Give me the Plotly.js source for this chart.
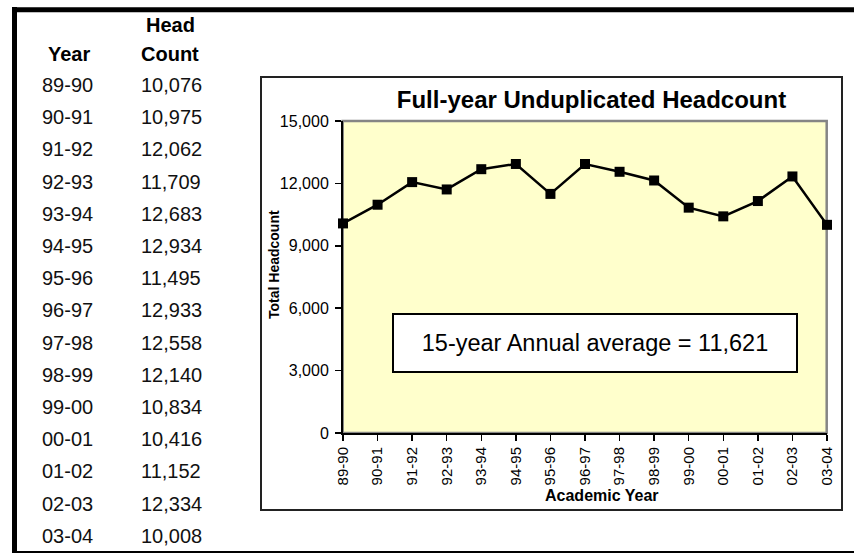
<!DOCTYPE html>
<html>
<head>
<meta charset="utf-8">
<script src="https://cdn.plot.ly/plotly-3.0.1.min.js"></script>
<style>
html,body{margin:0;padding:0;background:#fff;}
#chart{width:854px;height:553px;}
</style>
</head>
<body>
<div id="chart"></div>
<script>
// ---- data ----
var years = ["89-90","90-91","91-92","92-93","93-94","94-95","95-96","96-97","97-98","98-99","99-00","00-01","01-02","02-03","03-04"];
var headcount = [10076,10975,12062,11709,12683,12934,11495,12933,12558,12140,10834,10416,11152,12334,10008];
var yTicks = [0,3000,6000,9000,12000,15000];
var chartTitle = "Full-year Unduplicated Headcount";
var xTitle = "Academic Year";
var yTitle = "Total Headcount";
var avgLabel = "15-year Annual average = 11,621";
var tableHeaderYear = "Year";
var tableHeaderCount = ["Head","Count"];

// ---- layout geometry (pixels) ----
var W = 854, H = 553;
var PL = 343, PR = 827, PT = 121, PB = 433;
function px(x){ return (x - PL) / (PR - PL); }
function py(y){ return (PB - y) / (PB - PT); }
var FONT = "Liberation Sans, Arial, sans-serif";

function fmt(n){ return n.toString().replace(/\B(?=(\d{3})+(?!\d))/g, ","); }

var annotations = [];
// table header
annotations.push({xref:'paper',yref:'paper',x:px(46),y:py(54),xanchor:'left',yanchor:'middle',showarrow:false,
  text:'<b>'+tableHeaderYear+'</b>',font:{family:FONT,size:20,color:'#000'}});
annotations.push({xref:'paper',yref:'paper',x:px(170),y:py(25),xanchor:'center',yanchor:'middle',showarrow:false,
  text:'<b>'+tableHeaderCount[0]+'</b>',font:{family:FONT,size:20,color:'#000'}});
annotations.push({xref:'paper',yref:'paper',x:px(170),y:py(54),xanchor:'center',yanchor:'middle',showarrow:false,
  text:'<b>'+tableHeaderCount[1]+'</b>',font:{family:FONT,size:20,color:'#000'}});
// table rows
for (var i = 0; i < years.length; i++) {
  var yy = 85 + i * 32.2;
  annotations.push({xref:'paper',yref:'paper',x:px(40),y:py(yy),xanchor:'left',yanchor:'middle',showarrow:false,
    text:years[i],font:{family:FONT,size:20,color:'#111'}});
  annotations.push({xref:'paper',yref:'paper',x:px(138.5),y:py(yy),xanchor:'left',yanchor:'middle',showarrow:false,
    text:fmt(headcount[i]),font:{family:FONT,size:20,color:'#111'}});
}
// average box
annotations.push({xref:'paper',yref:'paper',x:px(594.7),y:py(343),xanchor:'center',yanchor:'middle',showarrow:false,
  text:avgLabel,font:{family:FONT,size:23.5,color:'#000'},bgcolor:'#ffffff',bordercolor:'#000',borderwidth:2,
  width:400,height:54});
// axis titles
annotations.push({xref:'paper',yref:'paper',x:px(602),y:py(495),xanchor:'center',yanchor:'middle',showarrow:false,
  text:'<b>'+xTitle+'</b>',font:{family:FONT,size:16,color:'#000'}});
annotations.push({xref:'paper',yref:'paper',x:px(274),y:py(265),xanchor:'center',yanchor:'middle',showarrow:false,textangle:-90,
  text:'<b>'+yTitle+'</b>',font:{family:FONT,size:14,color:'#000'}});

var shapes = [
  // outer frame
  {type:'line',xref:'paper',yref:'paper',x0:px(12),x1:px(856),y0:py(9.7),y1:py(9.7),line:{color:'#000',width:5}},
  {type:'line',xref:'paper',yref:'paper',x0:px(14.5),x1:px(14.5),y0:py(7),y1:py(556),line:{color:'#000',width:5}},
  {type:'line',xref:'paper',yref:'paper',x0:px(12),x1:px(856),y0:py(552),y1:py(552),line:{color:'#000',width:2}},
  // chart box
  {type:'rect',xref:'paper',yref:'paper',x0:px(261),x1:px(842),y0:py(77),y1:py(510),line:{color:'#222',width:2},layer:'below'},
  // plot area border (grey)
  {type:'rect',xref:'paper',yref:'paper',x0:px(342.7),x1:px(826.7),y0:py(433),y1:py(121),line:{color:'#858585',width:2.5},layer:'below'}
];

var trace = {
  type:'scatter', mode:'lines+markers',
  x: years, y: headcount,
  line:{color:'#000',width:2.5},
  marker:{symbol:'square',size:10,color:'#000'},
  hoverinfo:'x+y', cliponaxis:false
};

var layout = {
  width:W, height:H,
  margin:{l:PL, r:W-PR, t:PT, b:H-PB, pad:0},
  paper_bgcolor:'#ffffff',
  plot_bgcolor:'#ffffcc',
  showlegend:false,
  font:{family:FONT,color:'#000'},
  title:{text:'<b>'+chartTitle+'</b>', xref:'container', x:591.5/W, xanchor:'center', yref:'container', y:1-100/H, yanchor:'middle',
    font:{family:FONT,size:24,color:'#000'}},
  xaxis:{type:'category', range:[0, years.length-1], showgrid:false, zeroline:false,
    showline:true, linecolor:'#000', linewidth:2, ticks:'outside', ticklen:6, tickcolor:'#000', tickwidth:1.5,
    tickangle:-90, tickfont:{family:FONT,size:15,color:'#000'}, fixedrange:true},
  yaxis:{range:[0,15000], tickvals:yTicks, tickformat:',', showgrid:false, zeroline:false,
    showline:true, linecolor:'#000', linewidth:2, ticks:'outside', ticklen:6, tickcolor:'#000', tickwidth:1.5,
    tickfont:{family:FONT,size:16,color:'#000'}, ticklabelstandoff:3, fixedrange:true},
  shapes:shapes,
  annotations:annotations
};

Plotly.newPlot('chart',[trace],layout,{displayModeBar:false,staticPlot:true});
</script>
</body>
</html>
